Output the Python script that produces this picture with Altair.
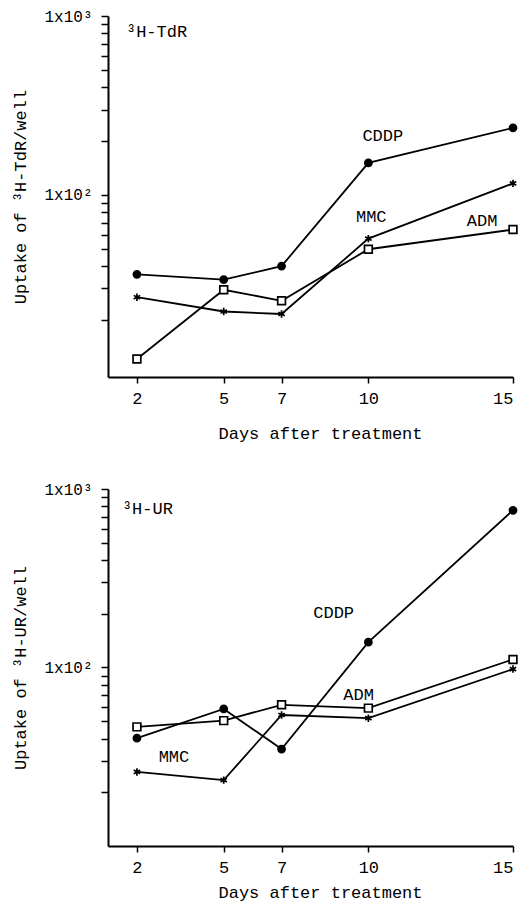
import altair as alt
import pandas as pd

# ---------------- data ----------------
days = [2, 5, 7, 10, 15]
drugs = ["CDDP", "MMC", "ADM"]

tdr_cddp = [36, 33.6, 40, 151, 237]
tdr_mmc = [26.8, 22.3, 21.6, 57, 116]
tdr_adm = [12.1, 29.5, 25.6, 49.7, 64]

ur_cddp = [40.2, 58.6, 34.9, 138.6, 760]
ur_mmc = [26, 23.4, 54.2, 52, 98]
ur_adm = [46.5, 50.4, 61.8, 59.2, 111]

y_ticks = [20, 30, 40, 50, 60, 70, 80, 90, 100,
           200, 300, 400, 500, 600, 700, 800, 900, 1000]

# annotation text placed in data coordinates
tdr_label_text = ["CDDP", "MMC", "ADM"]
tdr_label_day = [10.5, 10.1, 13.93]
tdr_label_val = [214, 75, 71.8]

ur_label_text = ["CDDP", "ADM", "MMC"]
ur_label_day = [8.8, 9.66, 3.28]
ur_label_val = [201, 70.3, 31.5]

tdr_panel_text = "³H-TdR"
tdr_panel_pos = (1.62, 810)
ur_panel_text = "³H-UR"
ur_panel_pos = (1.48, 773)

FONT = "Courier New, Liberation Mono, monospace"
ASTERISK = "M0,-1L0,1M-0.866,-0.5L0.866,0.5M-0.866,0.5L0.866,-0.5"


def make_df(cddp, mmc, adm):
    rows = []
    for name, vals in zip(drugs, [cddp, mmc, adm]):
        for d, v in zip(days, vals):
            rows.append({"day": d, "value": v, "drug": name})
    return pd.DataFrame(rows)


def panel(df, lab_text, lab_day, lab_val, ptext, ppos, ytitle, ymin, height, title_y):
    xs = alt.X("day:Q",
               scale=alt.Scale(domain=[1, 15], nice=False, zero=False),
               axis=alt.Axis(values=days, title="Days after treatment",
                             grid=False, domainColor="black", domainWidth=2,
                             tickColor="black", tickWidth=1.5, tickSize=6,
                             labelFont=FONT, labelFontSize=17, labelColor="black",
                             labelPadding=7, titleFont=FONT, titleFontSize=17,
                             titleFontWeight="normal", titleColor="black",
                             titleX=212, titleY=title_y, titleBaseline="alphabetic"))
    ys = alt.Y("value:Q",
               scale=alt.Scale(type="log", domain=[ymin, 1000], nice=False),
               axis=alt.Axis(values=y_ticks, title=ytitle, grid=False,
                             labelExpr="datum.value == 1000 ? '1x10³' : (datum.value == 100 ? '1x10²' : '')",
                             labelOverlap=False,
                             domainColor="black", domainWidth=2,
                             tickColor="black", tickWidth=1.5, tickSize=7,
                             labelFont=FONT, labelFontSize=16, labelColor="black",
                             labelPadding=9, titleFont=FONT, titleFontSize=17,
                             titleFontWeight="normal", titleColor="black",
                             titleX=-83, titleY=height / 2,
                             titleBaseline="alphabetic"))
    base = alt.Chart(df)
    lines = base.mark_line(color="black", strokeWidth=1.8).encode(
        x=xs, y=ys, detail="drug:N")
    points = base.mark_point(opacity=1, stroke="black", strokeWidth=1.7).encode(
        x="day:Q", y="value:Q",
        shape=alt.Shape("drug:N", scale=alt.Scale(domain=drugs,
                        range=["circle", ASTERISK, "square"]), legend=None),
        fill=alt.Fill("drug:N", scale=alt.Scale(domain=drugs,
                      range=["black", "white", "white"]), legend=None),
        size=alt.Size("drug:N", scale=alt.Scale(domain=drugs,
                      range=[50, 60, 100]), legend=None),
    )
    ldf = pd.DataFrame({"t": lab_text, "day": lab_day, "value": lab_val})
    labels = alt.Chart(ldf).mark_text(font=FONT, fontSize=17, color="black",
                                      align="center", baseline="middle").encode(
        x="day:Q", y="value:Q", text="t:N")
    pdf = pd.DataFrame({"t": [ptext], "day": [ppos[0]], "value": [ppos[1]]})
    ptitle = alt.Chart(pdf).mark_text(font=FONT, fontSize=17, color="black",
                                      align="left", baseline="middle").encode(
        x="day:Q", y="value:Q", text="t:N")
    return alt.layer(lines, points, labels, ptitle).properties(
        width=405, height=height)


top = panel(make_df(tdr_cddp, tdr_mmc, tdr_adm), tdr_label_text, tdr_label_day,
            tdr_label_val, tdr_panel_text, tdr_panel_pos,
            "Uptake of ³H-TdR/well", 9.6, 361, 61)
bottom = panel(make_df(ur_cddp, ur_mmc, ur_adm), ur_label_text, ur_label_day,
               ur_label_val, ur_panel_text, ur_panel_pos,
               "Uptake of ³H-UR/well", 10, 357, 51)

chart = alt.vconcat(top, bottom, spacing=112, bounds="flush").properties(
    padding={"left": 3, "top": 0, "right": 0, "bottom": 10},
    background="white",
).configure_view(stroke=None)

chart.save("out.html", embed_options={"renderer": "svg", "actions": False})
